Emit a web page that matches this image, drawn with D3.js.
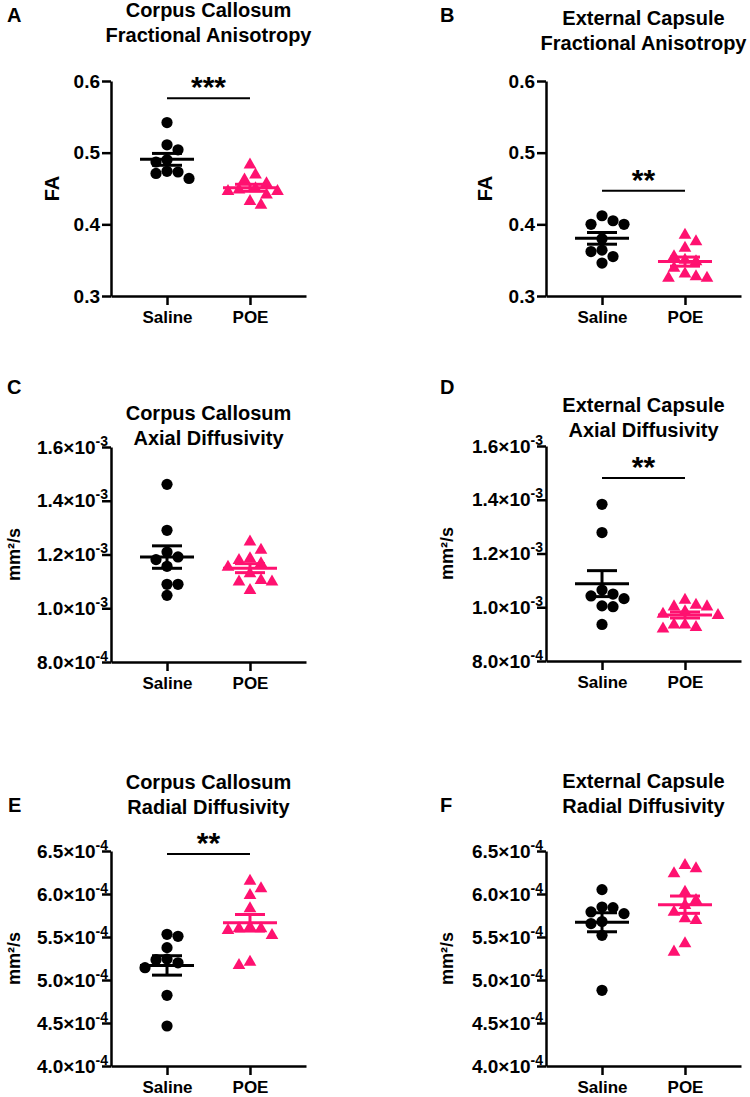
<!DOCTYPE html>
<html>
<head>
<meta charset="utf-8">
<script src="https://cdn.jsdelivr.net/npm/d3@7"></script>
<style>
body { margin: 0; background: #fff; }
svg text { font-family: "Liberation Sans", Arial, sans-serif; font-weight: bold; fill: #000; }
</style>
</head>
<body>
<svg id="fig" width="750" height="1097"></svg>
<script>
var groups = ['Saline', 'POE'];

// values
var ccFaSaline = [0.542, 0.511, 0.504, 0.490, 0.487, 0.474, 0.473, 0.471, 0.464];
var ccFaPoe = [0.483, 0.469, 0.462, 0.457, 0.450, 0.448, 0.446, 0.446, 0.441, 0.432, 0.427];
var ecFaSaline = [0.412, 0.405, 0.400, 0.400, 0.380, 0.364, 0.362, 0.355, 0.346];
var ecFaPoe = [0.385, 0.376, 0.367, 0.355, 0.350, 0.348, 0.339, 0.331, 0.327, 0.325, 0.325];
var ccAdSaline = [1.461e-3, 1.290e-3, 1.209e-3, 1.191e-3, 1.181e-3, 1.156e-3, 1.089e-3, 1.089e-3, 1.048e-3];
var ccAdPoe = [1.247e-3, 1.216e-3, 1.185e-3, 1.178e-3, 1.166e-3, 1.153e-3, 1.129e-3, 1.104e-3, 1.098e-3, 1.098e-3, 1.067e-3];
var ecAdSaline = [1.383e-3, 1.278e-3, 1.064e-3, 1.049e-3, 1.042e-3, 1.032e-3, 1.005e-3, 1.002e-3, 0.936e-3];
var ecAdPoe = [1.027e-3, 1.008e-3, 1.002e-3, 1.002e-3, 0.984e-3, 0.975e-3, 0.970e-3, 0.935e-3, 0.935e-3, 0.925e-3, 0.920e-3];
var ccRdSaline = [5.531e-4, 5.508e-4, 5.376e-4, 5.244e-4, 5.236e-4, 5.200e-4, 5.143e-4, 4.822e-4, 4.465e-4];
var ccRdPoe = [6.151e-4, 6.063e-4, 5.985e-4, 5.830e-4, 5.616e-4, 5.598e-4, 5.598e-4, 5.578e-4, 5.520e-4, 5.209e-4, 5.171e-4];
var ecRdSaline = [6.051e-4, 5.849e-4, 5.842e-4, 5.791e-4, 5.772e-4, 5.680e-4, 5.656e-4, 5.520e-4, 4.880e-4];
var ecRdPoe = [6.334e-4, 6.295e-4, 6.237e-4, 6.023e-4, 5.927e-4, 5.869e-4, 5.791e-4, 5.714e-4, 5.694e-4, 5.423e-4, 5.326e-4];

var faTicks = [0.3, 0.4, 0.5, 0.6];
var adTicks = [8.0e-4, 1.0e-3, 1.2e-3, 1.4e-3, 1.6e-3];
var rdTicks = [4.0e-4, 4.5e-4, 5.0e-4, 5.5e-4, 6.0e-4, 6.5e-4];

var panelLetters = ['A', 'B', 'C', 'D', 'E', 'F'];
var panelTitles = [
	['Corpus Callosum', 'Fractional Anisotropy'],
	['External Capsule', 'Fractional Anisotropy'],
	['Corpus Callosum', 'Axial Diffusivity'],
	['External Capsule', 'Axial Diffusivity'],
	['Corpus Callosum', 'Radial Diffusivity'],
	['External Capsule', 'Radial Diffusivity']
];
var yLabels = ['FA', 'FA', 'mm²/s', 'mm²/s', 'mm²/s', 'mm²/s'];
var sigStars = ['***', '**', '', '**', '**', ''];
var sigLevels = [0.576, 0.447, null, 1.481e-3, 6.465e-4, null];

var colors = {Saline: '#000000', POE: '#ff1170'};

// layout for each panel (pixels)
var panels = [
	{data: [ccFaSaline, ccFaPoe], ticks: faTicks, left: 111, top: 81, titleY: -64, letter: [7, 22], yLabelX: -59},
	{data: [ecFaSaline, ecFaPoe], ticks: faTicks, left: 546, top: 81, titleY: -56, letter: [440, 22], yLabelX: -61},
	{data: [ccAdSaline, ccAdPoe], ticks: adTicks, left: 111, top: 447, titleY: -27, letter: [7, 394], yLabelX: -97},
	{data: [ecAdSaline, ecAdPoe], ticks: adTicks, left: 546, top: 446, titleY: -34, letter: [440, 394], yLabelX: -99},
	{data: [ccRdSaline, ccRdPoe], ticks: rdTicks, left: 111, top: 851, titleY: -62, letter: [8, 812], yLabelX: -97},
	{data: [ecRdSaline, ecRdPoe], ticks: rdTicks, left: 546, top: 851, titleY: -63, letter: [440, 812], yLabelX: -99}
];

var width = 195, height = 215;
var svg = d3.select('#fig');

// greedy dodge so markers in a column do not pile up
function swarm(vals, y, d, step) {
	var placed = [];
	var flip = false;
	var pts = vals.map(function(v) { return {v: v, y: y(v)}; })
		.sort(function(a, b) { return a.y - b.y; });
	pts.forEach(function(p) {
		for (var k = 0; k < 30; k++) {
			var cands = k === 0 ? [0] : (flip ? [-k * step, k * step] : [k * step, -k * step]);
			var hit = cands.filter(function(dx) {
				return placed.every(function(q) {
					return Math.hypot(q.dx - dx, q.y - p.y) >= d;
				});
			});
			if (hit.length) {
				p.dx = hit[0];
				if (p.dx !== 0) flip = !flip;
				break;
			}
		}
		placed.push(p);
	});
	return placed;
}

function expLabel(sel, v) {
	var e = Math.floor(Math.log10(v) + 1e-9);
	var m = (v / Math.pow(10, e)).toFixed(1);
	sel.text(null);
	sel.append('tspan').text(m + '×10');
	sel.append('tspan').attr('dy', -8).style('font-size', '14px').text(String(e));
}

panels.forEach(function(p, i) {
	var g = svg.append('g').attr('transform', 'translate(' + p.left + ',' + p.top + ')');

	var x = d3.scalePoint().domain(groups).range([0, width]).padding(0.675);
	var y = d3.scaleLinear().domain(d3.extent(p.ticks)).range([height, 0]);

	// title and panel letter
	var t = g.append('text')
		.attr('x', width / 2)
		.attr('y', p.titleY)
		.attr('text-anchor', 'middle')
		.style('font-size', '20px');
	t.append('tspan').attr('x', width / 2).text(panelTitles[i][0]);
	t.append('tspan').attr('x', width / 2).attr('dy', 25).text(panelTitles[i][1]);

	svg.append('text')
		.attr('x', p.letter[0])
		.attr('y', p.letter[1])
		.style('font-size', '20px')
		.text(panelLetters[i]);

	// y label
	g.append('text')
		.attr('transform', 'translate(' + p.yLabelX + ',' + (height / 2) + ') rotate(-90)')
		.attr('text-anchor', 'middle')
		.attr('dy', '0.36em')
		.style('font-size', i < 2 ? '20px' : '18px')
		.text(yLabels[i]);

	// axes
	var yAxis = g.append('g')
		.call(d3.axisLeft(y).tickValues(p.ticks).tickFormat(d3.format('.1f'))
			.tickSize(9).tickSizeOuter(0).tickPadding(2));
	var xAxis = g.append('g')
		.attr('transform', 'translate(0,' + height + ')')
		.call(d3.axisBottom(x).tickSize(9).tickSizeOuter(0).tickPadding(6));

	[yAxis, xAxis].forEach(function(a) {
		a.select('.domain').attr('stroke-width', 2.5).attr('stroke', '#000');
		a.selectAll('.tick line').attr('stroke-width', 2.5).attr('stroke', '#000');
		a.selectAll('text').attr('fill', '#000').style('font-size', '19px');
	});
	xAxis.selectAll('text').style('font-size', '17px');

	if (i >= 2) {
		yAxis.selectAll('.tick text').each(function(v) {
			d3.select(this).attr('x', -3);
			expLabel(d3.select(this), v);
		});
	}

	// points
	groups.forEach(function(grp, gi) {
		var vals = p.data[gi];
		var pts = swarm(vals, y, 11, 5.5);
		var cx = x(grp);
		if (grp === 'Saline') {
			g.selectAll('circle.g' + gi)
				.data(pts)
				.enter()
				.append('circle')
				.attr('cx', function(d) { return cx + d.dx; })
				.attr('cy', function(d) { return d.y; })
				.attr('r', 5.6)
				.style('fill', colors[grp]);
		} else {
			g.selectAll('path.g' + gi)
				.data(pts)
				.enter()
				.append('path')
				.attr('d', d3.symbol().type(d3.symbolTriangle).size(70))
				.attr('transform', function(d) { return 'translate(' + (cx + d.dx) + ',' + d.y + ')'; })
				.style('fill', colors[grp]);
		}

		// mean and SEM
		var mean = d3.mean(vals);
		var sem = d3.deviation(vals) / Math.sqrt(vals.length);
		var eb = g.append('g')
			.style('stroke', colors[grp])
			.style('stroke-width', 3)
			.style('fill', 'none');
		eb.append('line')
			.attr('x1', cx - 27).attr('x2', cx + 27)
			.attr('y1', y(mean)).attr('y2', y(mean));
		eb.append('line')
			.attr('x1', cx).attr('x2', cx)
			.attr('y1', y(mean - sem)).attr('y2', y(mean + sem));
		[mean - sem, mean + sem].forEach(function(v) {
			eb.append('line')
				.attr('x1', cx - 15).attr('x2', cx + 15)
				.attr('y1', y(v)).attr('y2', y(v));
		});
	});

	// significance
	if (sigLevels[i] !== null) {
		g.append('line')
			.attr('x1', x('Saline')).attr('x2', x('POE'))
			.attr('y1', y(sigLevels[i])).attr('y2', y(sigLevels[i]))
			.style('stroke', '#000')
			.style('stroke-width', 2);
		g.append('text')
			.attr('x', (x('Saline') + x('POE')) / 2)
			.attr('y', y(sigLevels[i]) - 1)
			.attr('text-anchor', 'middle')
			.style('font-size', '30px')
			.text(sigStars[i]);
	}
});
</script>
</body>
</html>
